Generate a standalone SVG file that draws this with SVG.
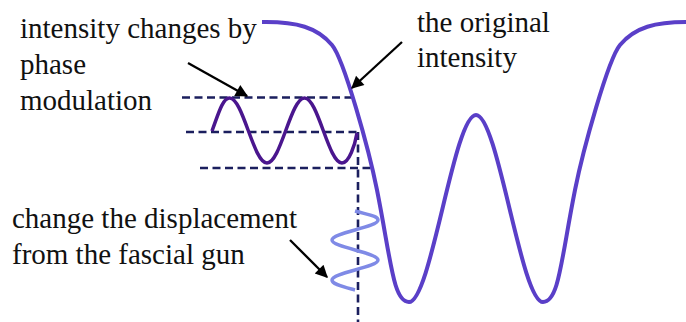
<svg xmlns="http://www.w3.org/2000/svg" width="686" height="322" viewBox="0 0 686 322">
<style>
.lbl{font-family:'Liberation Serif','DejaVu Serif',serif;font-size:29px;fill:#111}
.dash{fill:none;stroke:#1b1f5e;stroke-width:2.6;stroke-dasharray:8 4.5}
.arrow{fill:none;stroke:#000;stroke-width:2.3;marker-end:url(#ah)}
</style>
<defs>
<marker id="ah" viewBox="0 0 10 10" refX="9" refY="5" markerWidth="7" markerHeight="5.4" markerUnits="strokeWidth" orient="auto">
<path d="M0,0 L10,5 L0,10 z" fill="#000"/>
</marker>
</defs>
<rect width="686" height="322" fill="#fff"/>
<g id="guides">
<line class="dash" x1="182" y1="97.5" x2="356" y2="97.5"/>
<line class="dash" x1="186" y1="132" x2="361" y2="132"/>
<line class="dash" x1="200" y1="168" x2="371" y2="168"/>
<line class="dash" x1="358" y1="132" x2="358" y2="322"/>
</g>
<g id="original-intensity-curve">
<path d="M262,22 L266,22 C296,22 317,27 332,45 C344,59.4 369,150 377,190 C391,260 393,302 409,302 C431,302 454,115 476,115 C498,115 521,302 543,302 C559,302 561,260 575,190 C583,150 608,59.4 620,45 C635,27 656,22 686,22" fill="none" stroke="#5a3fc8" stroke-width="4"/>
</g>
<g id="phase-modulated-wave">
<path d="M212,131 C218,115 222.5,98 229.5,98 C243.1,98 253.4,163 267,163 C280.6,163 290.9,98 304.5,98 C318.1,98 328.4,163 342,163 C349,163 355,145 357,133" fill="none" stroke="#4a168e" stroke-width="3.5"/>
</g>
<g id="displacement-wave">
<path d="M355,211 C369.4,215 378,216 378,220 C378,227.3 332,232.7 332,240 C332,247.3 378,252.7 378,260 C378,267.3 332,272.7 332,280 C332,284 340.6,286 355,290" fill="none" stroke="#7f8ae6" stroke-width="3.5"/>
</g>
<g id="label-phase-modulation">
<text class="lbl" font-family="Liberation Serif, serif" x="20" y="38">intensity changes by</text>
<text class="lbl" font-family="Liberation Serif, serif" x="20" y="74">phase</text>
<text class="lbl" font-family="Liberation Serif, serif" x="20" y="110">modulation</text>
</g>
<g id="label-original-intensity">
<text class="lbl" font-family="Liberation Serif, serif" x="417" y="32">the original</text>
<text class="lbl" font-family="Liberation Serif, serif" x="417" y="67">intensity</text>
</g>
<g id="label-displacement">
<text class="lbl" font-family="Liberation Serif, serif" x="12" y="228">change the displacement</text>
<text class="lbl" font-family="Liberation Serif, serif" x="12" y="264">from the fascial gun</text>
</g>
<g id="connectors">
<line class="arrow" x1="188" y1="63" x2="247" y2="96"/>
<line class="arrow" x1="402" y1="42" x2="352" y2="88"/>
<line class="arrow" x1="290" y1="240" x2="327" y2="277"/>
</g>
</svg>
